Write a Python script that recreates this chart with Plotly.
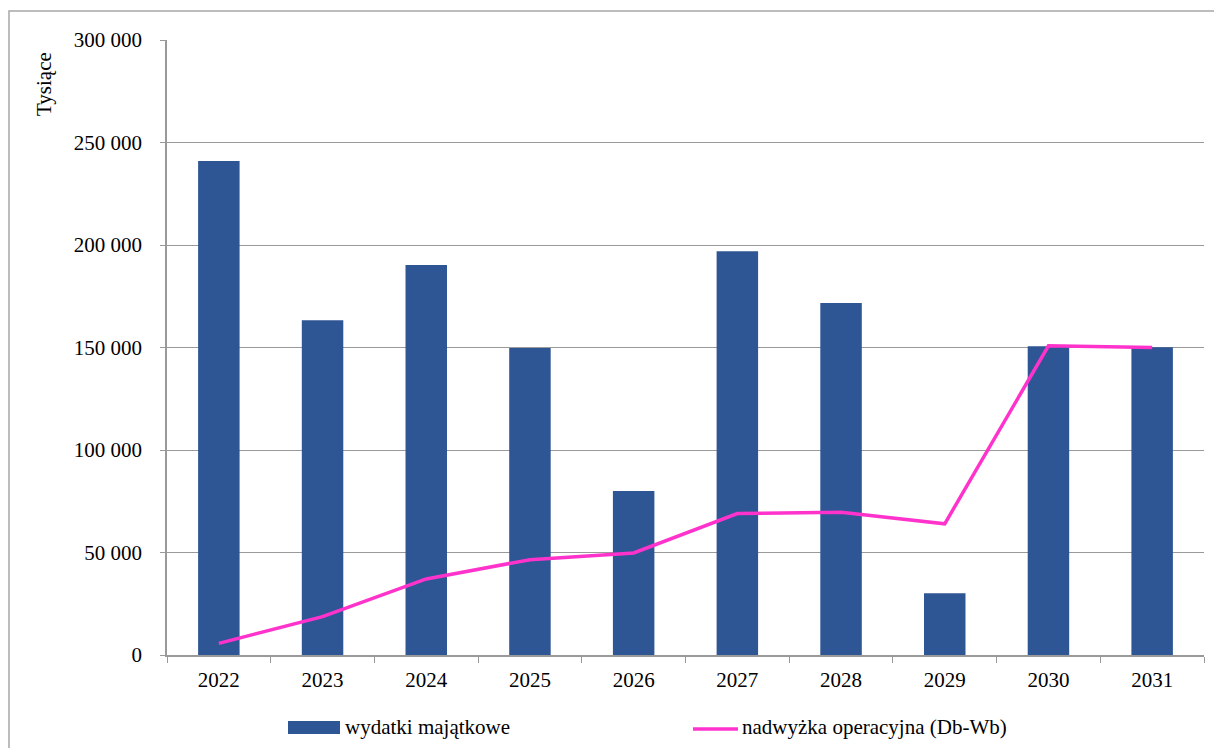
import plotly.graph_objects as go

years = ["2022", "2023", "2024", "2025", "2026", "2027", "2028", "2029", "2030", "2031"]
wydatki = [241000, 163300, 190300, 149700, 80000, 197000, 171700, 30100, 150600, 150100]
nadwyzka = [5700, 18700, 37100, 46500, 49800, 69000, 69600, 64000, 150800, 150000]
y_ticks = [0, 50000, 100000, 150000, 200000, 250000, 300000]
y_tick_labels = ["0", "50 000", "100 000", "150 000", "200 000", "250 000", "300 000"]
series_names = ["wydatki majątkowe", "nadwyżka operacyjna (Db-Wb)"]

FONT = "Liberation Serif"
FS = 21
BAR_COLOR = "#2E5594"
LINE_COLOR = "#FF33CC"

fig = go.Figure()
fig.add_trace(go.Bar(
    x=years, y=wydatki, name=series_names[0],
    marker=dict(color=BAR_COLOR, line=dict(width=0)),
))
fig.add_trace(go.Scatter(
    x=years, y=nadwyzka, name=series_names[1],
    mode="lines", line=dict(color=LINE_COLOR, width=3.5),
))

# page has 8px body margin; figure sized so the page is 1222x756
OFF = 8
W, H = 1222 - 2 * OFF, 756 - 2 * OFF
L, T = 167 - OFF, 40 - OFF
R = W - (1204 - OFF)
B = H - (655 - OFF)
pw, ph = W - L - R, H - T - B

def px_x(p):
    return (p - OFF - L) / pw

def px_y(p):
    return (H - B - (p - OFF)) / ph

shapes = [
    dict(type="rect", xref="paper", yref="paper",
         x0=px_x(9), x1=px_x(1260), y0=px_y(790), y1=px_y(11),
         line=dict(color="#A6A6A6", width=1.5), fillcolor="rgba(0,0,0,0)", layer="below"),
    # legend symbols
    dict(type="rect", xref="paper", yref="paper",
         x0=px_x(288), x1=px_x(340), y0=px_y(734), y1=px_y(721),
         line=dict(width=0), fillcolor=BAR_COLOR),
    dict(type="line", xref="paper", yref="paper",
         x0=px_x(693), x1=px_x(738), y0=px_y(729), y1=px_y(729),
         line=dict(color=LINE_COLOR, width=3.5)),
]

annotations = [
    dict(text="Tysiące", xref="paper", yref="paper",
         x=px_x(44), y=px_y(84), textangle=-90, showarrow=False,
         font=dict(family=FONT, size=FS), xanchor="center", yanchor="middle"),
    dict(text=series_names[0], xref="paper", yref="paper",
         x=px_x(343), y=px_y(727), showarrow=False, xanchor="left", yanchor="middle",
         font=dict(family=FONT, size=FS)),
    dict(text=series_names[1], xref="paper", yref="paper",
         x=px_x(740), y=px_y(727), showarrow=False, xanchor="left", yanchor="middle",
         font=dict(family=FONT, size=FS)),
]

fig.update_layout(
    width=W, height=H,
    margin=dict(l=L, r=R, t=T, b=B, pad=0),
    paper_bgcolor="white", plot_bgcolor="white",
    bargap=0.6,
    font=dict(family=FONT, size=FS, color="black"),
    showlegend=False,
    xaxis=dict(
        type="category", tickson="boundaries", ticks="outside", ticklen=6,
        tickcolor="#999999", showline=True, linecolor="#999999", linewidth=1.5,
        showgrid=False, tickfont=dict(family=FONT, size=FS), range=[-0.5, 9.5],
        ticklabelstandoff=5,
    ),
    yaxis=dict(
        range=[0, 300000], tickvals=y_ticks, ticktext=y_tick_labels,
        ticks="outside", ticklen=5, tickcolor="#999999",
        showline=True, linecolor="#999999", linewidth=1.5,
        showgrid=True, gridcolor="#999999", gridwidth=1.2,
        tickfont=dict(family=FONT, size=FS), zeroline=False,
        ticklabelstandoff=14,
    ),
    shapes=shapes,
    annotations=annotations,
)

fig.write_html("out.html")
